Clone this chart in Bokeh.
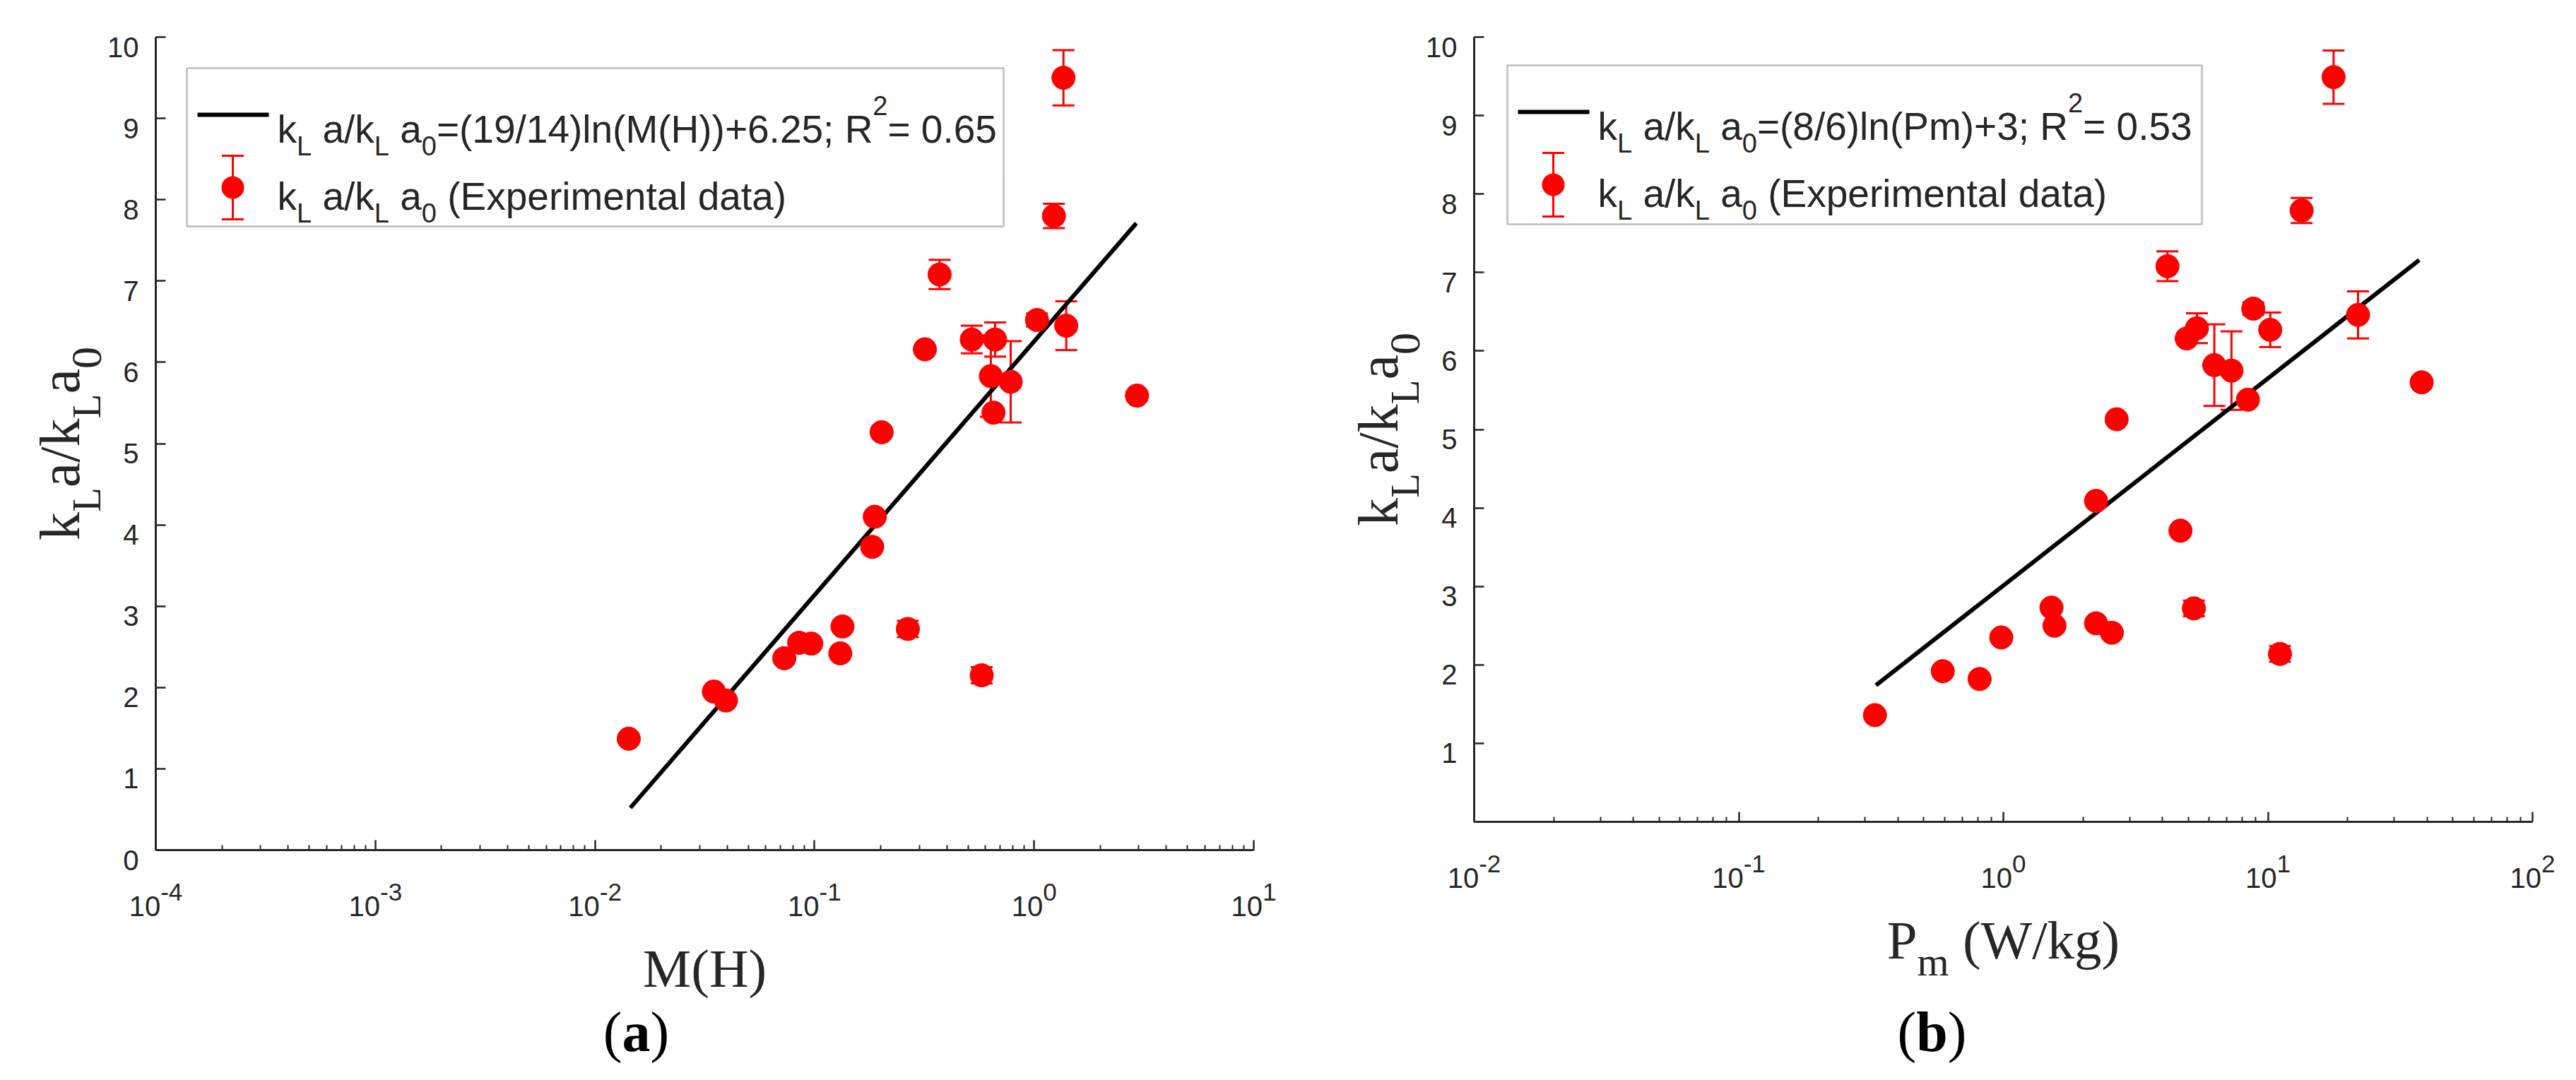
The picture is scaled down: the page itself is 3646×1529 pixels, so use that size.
import math
from bokeh.plotting import figure
from bokeh.models import (ColumnDataSource, FixedTicker, CustomJSTickFormatter, Label,
                          BoxAnnotation, Whisker, TeeHead, Range1d)
from bokeh.layouts import row
from bokeh.embed import file_html
from bokeh.resources import INLINE

# ---------------- data ----------------
# panel (a): kLa/kLa0 versus M(H)
mh_x = [1.36, 1.23, 0.371, 0.318, 0.520, 0.664, 1.03, 1.40, 0.635, 0.653, 0.782, 2.94, 0.202,
        0.188, 0.183, 0.134, 0.266, 0.0851, 0.0966, 0.0728, 0.131, 0.577, 0.0348, 0.0395, 0.01425]
mh_y = [9.50, 7.80, 7.08, 6.16, 6.28, 6.28, 6.52, 6.45, 5.83, 5.38, 5.76, 5.59, 5.14,
        4.10, 3.73, 2.75, 2.72, 2.55, 2.54, 2.36, 2.42, 2.15, 1.95, 1.84, 1.37]
mh_err = [0.34, 0.15, 0.18, 0.0, 0.17, 0.21, 0.08, 0.30, 0.50, 0.0, 0.50, 0.05, 0.05,
          0.0, 0.0, 0.0, 0.10, 0.0, 0.0, 0.0, 0.0, 0.10, 0.0, 0.0, 0.0]
fit_a_x = [0.0145, 2.92]
fit_a_y = [0.52, 7.71]

# panel (b): kLa/kLa0 versus Pm
pm_x = [0.327, 0.590, 0.813, 0.982, 1.52, 1.56, 2.24, 2.57, 2.24, 4.67, 5.25, 11.1, 2.68,
        4.93, 5.39, 4.17, 6.27, 7.28, 8.40, 8.80, 10.2, 21.9, 13.4, 17.7, 38.1]
pm_y = [1.36, 1.92, 1.82, 2.35, 2.73, 2.50, 2.53, 2.41, 4.09, 3.71, 2.72, 2.14, 5.13,
        6.16, 6.29, 7.08, 5.82, 5.75, 5.38, 6.54, 6.27, 6.46, 7.79, 9.49, 5.60]
pm_err = [0, 0, 0, 0, 0, 0, 0, 0, 0, 0, 0.10, 0.10, 0.05,
          0, 0.19, 0.19, 0.52, 0.50, 0, 0.08, 0.22, 0.30, 0.16, 0.34, 0.05]
fit_b_x = [0.33, 37.3]
fit_b_y = [1.74, 7.16]

# axis limits and ticks
x_lim_a = (1e-4, 1e1)
x_lim_b = (1e-2, 1e2)
y_lim_a = (0, 10)
y_lim_b = (0, 10)
x_ticks_a = [1e-4, 1e-3, 1e-2, 1e-1, 1e0, 1e1]
x_ticks_b = [1e-2, 1e-1, 1e0, 1e1, 1e2]
y_ticks_a = [0, 1, 2, 3, 4, 5, 6, 7, 8, 9, 10]
y_ticks_b = [1, 2, 3, 4, 5, 6, 7, 8, 9, 10]

legend_fit_a = "=(19/14)ln(M(H))+6.25; R"
legend_fit_b = "=(8/6)ln(Pm)+3; R"
legend_r2_a = "= 0.65"
legend_r2_b = "= 0.53"
legend_exp = "(Experimental data)"

# ---------------- styling / layout ----------------
SANS = "Liberation Sans"
SERIF = "Liberation Serif"
DARK = "#262626"
RED = "#ff0000"
PAGE = 8          # page margin
FIG_H = 1513
BORDER = 5
BORDER_BOTTOM = 3

AR = {' ': 278, '(': 333, ')': 333, '+': 584, ',': 278, '-': 333, '.': 278, '/': 278, ';': 278,
      '=': 584, 'E': 667, 'H': 722, 'L': 556, 'M': 833, 'P': 667, 'R': 722,
      'a': 556, 'd': 556, 'e': 556, 'i': 222, 'k': 500, 'l': 222, 'm': 833, 'n': 556,
      'p': 556, 'r': 333, 't': 278, 'x': 500}
for c in "0123456789":
    AR[c] = 556
TR = {' ': 250, '(': 333, ')': 333, '/': 278, 'H': 722, 'L': 611, 'M': 889, 'P': 556,
      'W': 944, 'a': 444, 'g': 500, 'k': 500, 'm': 778, 'b': 500}
for c in "0123456789":
    TR[c] = 500
TRB = {' ': 250, '(': 333, ')': 333, 'a': 500, 'b': 556}


def table_for(family, style):
    if family == SANS:
        return AR
    return TRB if style == "bold" else TR


def text_width(s, size, table):
    return sum(table.get(c, 556) for c in s) * size / 1000.0


def rich(p, conv, X, Y, pieces, family, align="left", angle=0.0, color=DARK):
    tabs = [table_for(family, pc[3] if len(pc) > 3 else "normal") for pc in pieces]
    widths = [text_width(pc[0], pc[1], tb) for pc, tb in zip(pieces, tabs)]
    total = sum(widths)
    adv = {"left": 0.0, "center": -total / 2.0, "right": -total}[align]
    for pc, w, tb in zip(pieces, widths, tabs):
        t, size, rise = pc[0], pc[1], pc[2]
        style = pc[3] if len(pc) > 3 else "normal"
        lead = len(t) - len(t.lstrip(' '))
        off = lead * tb[' '] * size / 1000.0 if lead else 0.0
        a = adv + off
        if angle == 0.0:
            px, py = X + a, Y - rise
        else:
            px, py = X - rise, Y - a
        x, y = conv(px, py)
        p.add_layout(Label(x=x, y=y, text=t.strip(' '), text_font=family,
                           text_font_size=f"{size}px", text_font_style=style,
                           text_color=color, angle=angle, text_align="left",
                           text_baseline="alphabetic"))
        adv += w


def box(p, conv, X0, Y0, X1, Y1, **kw):
    x0, y0 = conv(X0, Y1)
    x1, y1 = conv(X1, Y0)
    p.add_layout(BoxAnnotation(left=x0, right=x1, bottom=y0, top=y1, **kw))


def make_panel(xs, ys, errs, fx, fy, xlim, ylim, xt, yt, fig_left, fig_w, axbox):
    """axbox: pixel box (left, right, top, bottom) of the axes on the page."""
    L, R, T, B = axbox
    lo, hi = math.log10(xlim[0]), math.log10(xlim[1])
    ppd = (R - L) / (hi - lo)
    ppu = (B - T) / (ylim[1] - ylim[0])
    f_l = fig_left + BORDER
    f_r = fig_left + fig_w - BORDER
    f_t = PAGE + BORDER
    f_b = PAGE + FIG_H - BORDER_BOTTOM
    xr = (10 ** (lo - (L - f_l) / ppd), 10 ** (hi + (f_r - R) / ppd))
    yr = (ylim[0] - (f_b - B) / ppu, ylim[1] + (T - f_t) / ppu)

    def conv(X, Y):
        return 10 ** (lo + (X - L) / ppd), ylim[0] + (B - Y) / ppu

    p = figure(frame_width=fig_w - 2 * BORDER, frame_height=FIG_H - BORDER - BORDER_BOTTOM,
               x_axis_type="log", x_range=Range1d(*xr), y_range=Range1d(*yr),
               output_backend="svg", toolbar_location=None,
               min_border_left=BORDER, min_border_right=BORDER,
               min_border_top=BORDER, min_border_bottom=BORDER_BOTTOM)
    p.outline_line_color = None
    p.grid.visible = False
    p.background_fill_color = "white"
    p.border_fill_color = "white"

    minors = [k * t for t in xt[:-1] for k in range(2, 10)]
    p.xaxis.ticker = FixedTicker(ticks=xt, minor_ticks=minors)
    p.yaxis.ticker = FixedTicker(ticks=yt)
    p.xaxis.fixed_location = ylim[0]
    p.yaxis.fixed_location = xlim[0]
    p.xaxis.bounds = xlim
    p.yaxis.bounds = ylim
    for ax in (p.xaxis[0], p.yaxis[0]):
        ax.formatter = CustomJSTickFormatter(code="return '';")
        ax.major_label_text_font_size = "1px"
        ax.major_label_standoff = 0
        ax.axis_line_color = DARK
        ax.axis_line_width = 3
        ax.major_tick_line_color = DARK
        ax.major_tick_line_width = 2.5
        ax.minor_tick_line_color = DARK
        ax.minor_tick_line_width = 2
        ax.major_tick_in = 14
        ax.major_tick_out = 0
        ax.minor_tick_out = 0
    p.xaxis.minor_tick_in = 7
    p.yaxis.minor_tick_in = 0

    p.line(fx, fy, line_color="black", line_width=6)

    ex = [x for x, e in zip(xs, errs) if e > 0]
    ey = [y for y, e in zip(ys, errs) if e > 0]
    ee = [e for e in errs if e > 0]
    src = ColumnDataSource(data=dict(x=ex, upper=[y + e for y, e in zip(ey, ee)],
                                     lower=[y - e for y, e in zip(ey, ee)]))
    p.add_layout(Whisker(source=src, base="x", upper="upper", lower="lower",
                         dimension="height", line_color=RED, line_width=3,
                         upper_head=TeeHead(size=31, line_color=RED, line_width=3),
                         lower_head=TeeHead(size=31, line_color=RED, line_width=3)))
    p.scatter(xs, ys, marker="circle", size=33, fill_color=RED, line_color=RED, line_width=1)

    # tick labels
    for t in xt:
        e = str(int(round(math.log10(t))))
        X = L + (math.log10(t) - lo) * ppd
        rich(p, conv, X, B + 79, [("10", 40, 0), (e, 35, 20)], SANS, align="center")
    for v in yt:
        Y = B - (v - ylim[0]) * ppu
        rich(p, conv, L - 24, Y + 14, [(str(v), 40, 0)], SANS, align="right")
    return p, conv


def decorate(p, conv, axbox, xlabel_pieces, caption_pieces, caption_x, lg, fit_text, r2_text):
    L, R, T, B = axbox
    # y label
    rich(p, conv, L - 136, (T + B) / 2.0,
         [("k", 80, 0), ("L", 57, -38), ("a/k", 80, 0), ("L", 57, -38), ("a", 80, 0), ("0", 62, -38)],
         SERIF, align="center", angle=math.pi / 2)
    # x label
    rich(p, conv, (L + R) / 2.0, B + 167, xlabel_pieces, SERIF, align="center")
    # caption
    rich(p, conv, caption_x, 1468, caption_pieces, SERIF, align="center", color="black")
    # legend
    gl, gt, gr, gb = lg
    box(p, conv, gl, gt, gr, gb, fill_color=None, line_color=DARK, line_width=2.5)
    box(p, conv, gl + 15, gt + 63, gl + 116, gt + 69, fill_color="black", fill_alpha=1.0, line_color=None)
    cx, cy = gl + 65, gt + 169
    box(p, conv, cx - 1.5, cy - 45, cx + 1.5, cy + 45, fill_color=RED, fill_alpha=1.0, line_color=None)
    box(p, conv, cx - 15.5, cy - 46.5, cx + 15.5, cy - 43.5, fill_color=RED, fill_alpha=1.0, line_color=None)
    box(p, conv, cx - 15.5, cy + 43.5, cx + 15.5, cy + 46.5, fill_color=RED, fill_alpha=1.0, line_color=None)
    box(p, conv, cx - 16, cy - 16, cx + 16, cy + 16, fill_color=RED, fill_alpha=1.0,
        line_color=None, border_radius=16)
    head = [("k", 55, 0), ("L", 38, -24), (" a/k", 55, 0), ("L", 38, -24), (" a", 55, 0), ("0", 38, -24)]
    rich(p, conv, gl + 128, gt + 86, head + [(fit_text, 55, 0), ("2", 38, 33), (r2_text, 55, 0)], SANS)
    rich(p, conv, gl + 128, gt + 181, head + [(" " + legend_exp, 55, 0)], SANS)


FIG_A_W = 1830
FIG_B_W = 1800
AXBOX_A = (228, 1782, 60, 1211)
AXBOX_B = (2094, 3592, 60, 1171)

pa, conv_a = make_panel(mh_x, mh_y, mh_err, fit_a_x, fit_a_y, x_lim_a, y_lim_a,
                        x_ticks_a, y_ticks_a, PAGE, FIG_A_W, AXBOX_A)
pb, conv_b = make_panel(pm_x, pm_y, pm_err, fit_b_x, fit_b_y, x_lim_b, y_lim_b,
                        x_ticks_b, y_ticks_b, PAGE + FIG_A_W, FIG_B_W, AXBOX_B)

decorate(pa, conv_a, AXBOX_A, [("M(H)", 77, 0)],
         [("(", 80, 0), ("a", 80, 0, "bold"), (")", 80, 0)], 908,
         (272, 104, 1428, 328), legend_fit_a, legend_r2_a)
decorate(pb, conv_b, AXBOX_B, [("P", 77, 0), ("m", 58, -31), (" (W/kg)", 77, 0)],
         [("(", 80, 0), ("b", 80, 0, "bold"), (")", 80, 0)], 2742,
         (2141, 100, 3124, 325), legend_fit_b, legend_r2_b)

layout = row(pa, pb)
open("out.html", "w").write(file_html(layout, INLINE))
